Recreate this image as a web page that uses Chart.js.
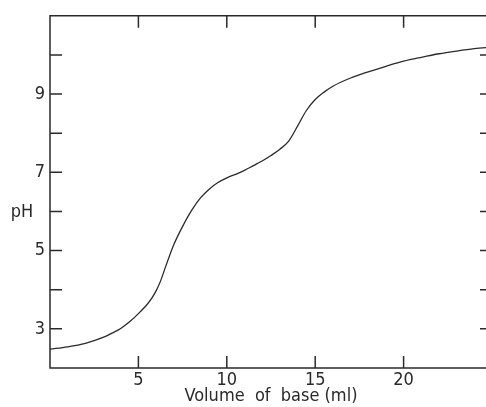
<!DOCTYPE html>
<html>
<head>
<meta charset="utf-8">
<script src="https://cdn.jsdelivr.net/npm/chart.js@4"></script>
<style>
  html, body { margin: 0; padding: 0; background: #fff; overflow: hidden; }
  #wrap { position: relative; width: 500px; height: 407px; }
</style>
</head>
<body>
<div id="wrap"><canvas id="ph"></canvas></div>
<script>
// volume of base added (ml) and the pH
const volume = [0, 1, 2, 3, 3.5, 4, 4.5, 5, 5.5, 5.75, 6, 6.25, 6.5, 7, 7.5, 8, 8.5, 9, 9.5, 10, 10.5, 11, 11.5, 12, 12.5, 13, 13.5, 14, 14.5, 15, 15.5, 16, 17, 18, 19, 20, 21, 22, 23, 24, 25];
const pH = [2.48, 2.54, 2.63, 2.78, 2.89, 3.01, 3.18, 3.39, 3.63, 3.78, 3.97, 4.22, 4.54, 5.15, 5.62, 6.02, 6.34, 6.57, 6.74, 6.86, 6.95, 7.05, 7.17, 7.29, 7.43, 7.59, 7.8, 8.18, 8.58, 8.86, 9.05, 9.2, 9.41, 9.57, 9.71, 9.84, 9.94, 10.03, 10.1, 10.16, 10.2];

const xTickLabels = [5, 10, 15, 20];
const yTickLabels = [3, 5, 7, 9];
const yTickMarks = [3, 4, 5, 6, 7, 8, 9, 10];

const ink = "#2a2a2a";
const font = "'DejaVu Sans Condensed', 'DejaVu Sans', sans-serif";

// frame and inward ticks, the way the old plot has them
const frame = {
    id: "frame",
    afterDraw(chart) {
        const ctx = chart.ctx;
        const a = chart.chartArea;
        const xs = chart.scales.x;
        const ys = chart.scales.y;
        const len = 12;
        ctx.save();
        ctx.strokeStyle = ink;
        ctx.lineWidth = 1.5;
        ctx.beginPath();
        ctx.moveTo(a.right, a.top);
        ctx.lineTo(a.left, a.top);
        ctx.lineTo(a.left, a.bottom);
        ctx.lineTo(a.right, a.bottom);
        ctx.lineTo(a.right, a.top);
        xTickLabels.forEach(function(v){
            const px = xs.getPixelForValue(v);
            ctx.moveTo(px, a.bottom);
            ctx.lineTo(px, a.bottom - len);
            ctx.moveTo(px, a.top);
            ctx.lineTo(px, a.top + len);
        });
        yTickMarks.forEach(function(v){
            const py = ys.getPixelForValue(v);
            ctx.moveTo(a.left, py);
            ctx.lineTo(a.left + len, py);
            ctx.moveTo(a.right, py);
            ctx.lineTo(a.right - len, py);
        });
        ctx.stroke();
        // horizontal y title
        ctx.fillStyle = ink;
        ctx.font = "18px " + font;
        ctx.textAlign = "center";
        ctx.textBaseline = "middle";
        ctx.fillText("pH", 22, 212);
        ctx.restore();
    }
};

new Chart(document.getElementById("ph"), {
    type: "line",
    data: {
        datasets: [{
            data: volume.map(function(v, i){ return {x: v, y: pH[i]}; }),
            borderColor: ink,
            borderWidth: 1.3,
            pointRadius: 0,
            fill: false,
            cubicInterpolationMode: "monotone"
        }]
    },
    options: {
        responsive: true,
        maintainAspectRatio: false,
        animation: false,
        layout: { padding: { top: 15, right: 8, left: 0, bottom: 0 } },
        plugins: { legend: { display: false }, tooltip: { enabled: false } },
        scales: {
            x: {
                type: "linear",
                min: 0,
                max: 25,
                grid: { display: false, drawTicks: false },
                border: { display: false },
                ticks: {
                    stepSize: 5,
                    padding: 2,
                    color: ink,
                    font: { family: font, size: 18 },
                    maxRotation: 0,
                    callback: function(v){ return xTickLabels.includes(v) ? String(v) : ""; }
                },
                title: {
                    display: true,
                    text: "Volume  of  base (ml)",
                    color: ink,
                    font: { family: font, size: 18 },
                    padding: { top: 0, bottom: 0 }
                },
                afterFit: function(s){ s.height = 39; }
            },
            y: {
                min: 2,
                max: 11,
                grid: { display: false, drawTicks: false },
                border: { display: false },
                ticks: {
                    stepSize: 1,
                    padding: 5,
                    color: ink,
                    font: { family: font, size: 18 },
                    callback: function(v){ return yTickLabels.includes(v) ? String(v) : ""; }
                },
                afterFit: function(s){ s.width = 50; }
            }
        }
    },
    plugins: [frame]
});
</script>
</body>
</html>
